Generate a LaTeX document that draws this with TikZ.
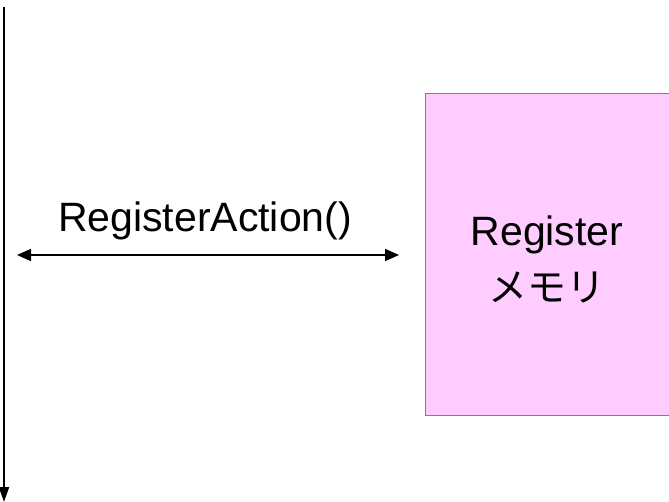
\documentclass[tikz,border=0pt]{standalone}
\usepackage{fontspec}
\setmainfont{Liberation Sans}
\newfontfamily\cjk{Noto Sans CJK JP}
\usetikzlibrary{arrows.meta}
\definecolor{boxpink}{HTML}{FFCCFF}
\definecolor{boxedge}{HTML}{808080}
\tikzset{
  membox/.style={draw=boxedge, line width=1pt, fill=boxpink, minimum width=244pt, minimum height=321pt, inner sep=0pt},
  bigtext/.style={font=\fontsize{41}{52}\selectfont, inner sep=0pt},
  lifeline/.style={line width=2pt, -{Triangle[length=15pt,width=10pt]}},
  msgarrow/.style={line width=1.6pt, {Triangle[length=14pt,width=12pt]}-{Triangle[length=14pt,width=12pt]}}
}
\begin{document}
\begin{tikzpicture}[x=1pt,y=-1pt]
\useasboundingbox (0,0) rectangle (669,502);
\coordinate (ltop) at (4,7);
\coordinate (lbot) at (4,502);
\draw[lifeline] (ltop) -- (lbot);
\node[membox] (mem) at (547,254.5) {};
\node[bigtext, anchor=base, align=center] (memtext) at (547,302) {Register\\[4pt]{\cjk\fontsize{39}{52}\selectfont メモリ}};
\node[bigtext, anchor=base] (call) at (205,232) {RegisterAction()};
\coordinate (aleft) at (17,255);
\coordinate (aright) at (399,255);
\draw[msgarrow] (aleft) -- (aright);
\end{tikzpicture}
\end{document}
